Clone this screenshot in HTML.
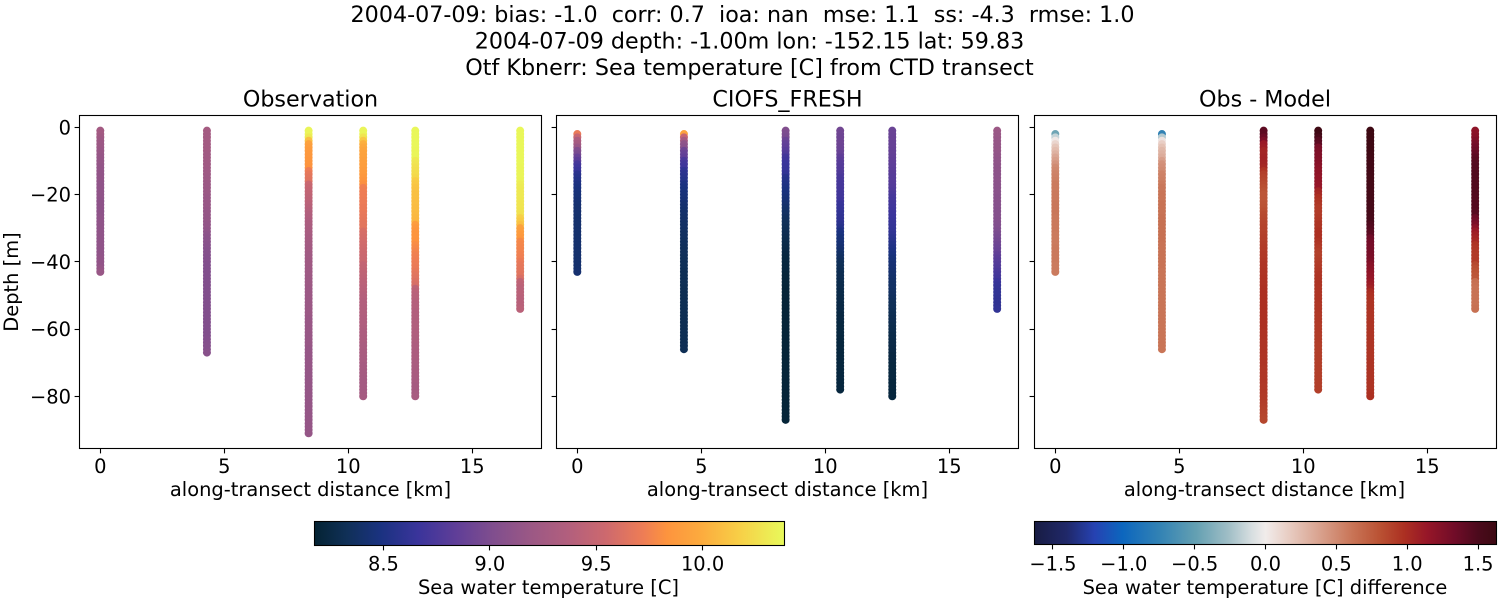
<!DOCTYPE html>
<html lang="en">
<head>
<meta charset="utf-8">
<title>CTD transect comparison</title>
<style>
html,body{margin:0;padding:0;background:#fff;width:1500px;height:600px;overflow:hidden}
svg{display:block}
text{font-family:"DejaVu Sans","Liberation Sans",sans-serif;fill:#000;white-space:pre}
.sup,.ttl{font-size:22.22px}
.lab,.tick{font-size:19.44px}
</style>
</head>
<body>
<svg id="fig" xmlns="http://www.w3.org/2000/svg" width="1500" height="600" viewBox="0 0 1500 600" xml:space="preserve">
<defs>
<linearGradient id="thermal-gradient" x1="0" x2="1" y1="0" y2="0"></linearGradient>
<linearGradient id="balance-gradient" x1="0" x2="1" y1="0" y2="0"></linearGradient>
</defs>
<rect width="1500" height="600" fill="#fff"/>
<text class="sup" x="742.5" y="22" text-anchor="middle">2004-07-09: bias: -1.0  corr: 0.7  ioa: nan  mse: 1.1  ss: -4.3  rmse: 1.0</text>
<text class="sup" x="749.5" y="48.5" text-anchor="middle">2004-07-09 depth: -1.00m lon: -152.15 lat: 59.83</text>
<text class="sup" x="749.5" y="75" text-anchor="middle">Otf Kbnerr: Sea temperature [C] from CTD transect</text>
<text class="ttl" x="310.5" y="106.5" text-anchor="middle">Observation</text>
<text class="ttl" x="787.5" y="106.5" text-anchor="middle">CIOFS_FRESH</text>
<text class="ttl" x="1265" y="106.5" text-anchor="middle">Obs - Model</text>
<text class="lab" x="310.5" y="496" text-anchor="middle">along-transect distance [km]</text>
<text class="lab" x="787.5" y="496" text-anchor="middle">along-transect distance [km]</text>
<text class="lab" x="1264.5" y="496" text-anchor="middle">along-transect distance [km]</text>
<text class="lab" transform="translate(18,282) rotate(-90)" text-anchor="middle">Depth [m]</text>
<text class="lab" x="548.5" y="594" text-anchor="middle">Sea water temperature [C]</text>
<text class="lab" x="1265" y="594" text-anchor="middle">Sea water temperature [C] difference</text>
<g id="layer"></g>
</svg>
<script>
// Axis tick values and printed labels
const xTicks = [0, 5, 10, 15];
const yTicks = [0, -20, -40, -60, -80];
const tempTicks = [8.5, 9.0, 9.5, 10.0];
const tempTickLabels = ['8.5', '9.0', '9.5', '10.0'];
const diffTicks = [-1.5, -1.0, -0.5, 0.0, 0.5, 1.0, 1.5];
const diffTickLabels = ['\u22121.5', '\u22121.0', '\u22120.5', '0.0', '0.5', '1.0', '1.5'];

// Along-transect distance of each cast [km]
const stationKm = [0, 4.3, 8.4, 10.6, 12.7, 16.93];

// Depth of the first sample of each cast [m below surface]; samples are 1 m apart
const obsFirstDepth = [1, 1, 1, 1, 1, 1];
const modelFirstDepth = [2, 2, 1, 1, 1, 1];

// Colour limits
const tempLimits = [8.176, 10.385];
const diffLimits = [-1.63, 1.63];

// Observed temperature per cast [C]
const obs0 = [9.25,9.25,9.23,9.21,9.20,9.19,9.18,9.17,9.16,9.15,
9.15,9.14,9.14,9.13,9.13,9.13,9.12,9.12,9.12,9.12,
9.12,9.11,9.11,9.11,9.11,9.11,9.12,9.12,9.12,9.12,
9.12,9.12,9.12,9.12,9.12,9.12,9.12,9.12,9.13,9.13,
9.13,9.15,9.17];
const obs1 = [9.27,9.26,9.26,9.26,9.25,9.25,9.25,9.24,9.24,9.24,
9.23,9.23,9.22,9.22,9.21,9.21,9.20,9.20,9.19,9.19,
9.18,9.18,9.17,9.17,9.16,9.16,9.15,9.15,9.14,9.14,
9.12,9.10,9.09,9.08,9.07,9.06,9.05,9.05,9.04,9.04,
9.03,9.03,9.03,9.03,9.03,9.03,9.03,9.03,9.03,9.03,
9.03,9.03,9.03,9.03,9.03,9.03,9.03,9.03,9.03,9.03,
9.03,9.03,9.04,9.04,9.05,9.05,9.07];
const obs2 = [10.36,10.36,10.30,10.10,9.93,9.90,9.88,9.87,9.86,9.85,
9.84,9.83,9.72,9.68,9.66,9.64,9.52,9.50,9.48,9.47,
9.45,9.44,9.42,9.40,9.38,9.36,9.35,9.33,9.32,9.31,
9.30,9.29,9.28,9.27,9.26,9.25,9.25,9.24,9.24,9.23,
9.23,9.22,9.22,9.22,9.21,9.21,9.21,9.20,9.20,9.20,
9.20,9.19,9.19,9.19,9.19,9.19,9.18,9.18,9.18,9.18,
9.18,9.17,9.17,9.17,9.17,9.16,9.16,9.16,9.16,9.16,
9.16,9.16,9.15,9.15,9.15,9.15,9.15,9.15,9.15,9.15,
9.15,9.15,9.15,9.15,9.15,9.15,9.15,9.15,9.15,9.15,
9.15];
const obs3 = [10.36,10.36,10.28,10.14,10.02,9.98,9.95,9.94,9.93,9.92,
9.91,9.90,9.89,9.88,9.86,9.84,9.82,9.74,9.73,9.72,
9.72,9.71,9.71,9.70,9.70,9.69,9.68,9.67,9.66,9.66,
9.60,9.59,9.58,9.57,9.56,9.55,9.54,9.53,9.52,9.52,
9.48,9.47,9.46,9.45,9.44,9.43,9.42,9.41,9.40,9.39,
9.38,9.37,9.37,9.36,9.36,9.36,9.35,9.35,9.35,9.34,
9.33,9.33,9.32,9.32,9.31,9.31,9.30,9.30,9.29,9.29,
9.28,9.28,9.27,9.27,9.26,9.26,9.26,9.26,9.26,9.27];
const obs4 = [10.37,10.37,10.37,10.37,10.37,10.37,10.36,10.36,10.36,10.30,
10.28,10.26,10.25,10.24,10.22,10.16,10.14,10.12,10.11,10.10,
10.10,10.09,10.09,10.08,10.08,10.07,10.06,10.05,9.90,9.87,
9.85,9.84,9.84,9.83,9.80,9.78,9.76,9.74,9.73,9.72,
9.71,9.70,9.68,9.66,9.64,9.62,9.60,9.45,9.43,9.41,
9.40,9.39,9.38,9.38,9.37,9.37,9.36,9.36,9.36,9.36,
9.35,9.35,9.34,9.34,9.33,9.33,9.32,9.32,9.32,9.31,
9.31,9.30,9.30,9.30,9.29,9.29,9.28,9.28,9.28,9.29];
const obs5 = [10.37,10.37,10.37,10.37,10.37,10.37,10.37,10.37,10.37,10.37,
10.37,10.36,10.36,10.36,10.36,10.35,10.32,10.31,10.30,10.30,
10.30,10.29,10.28,10.28,10.27,10.26,10.18,10.15,10.10,9.93,
9.90,9.88,9.86,9.78,9.77,9.76,9.75,9.74,9.73,9.70,
9.68,9.67,9.66,9.65,9.60,9.46,9.44,9.42,9.42,9.42,
9.41,9.41,9.41,9.42];
const obsSeries = [obs0, obs1, obs2, obs3, obs4, obs5];

// CIOFS_FRESH model temperature per cast [C]
const model0 = [9.70,9.50,9.32,9.28,9.18,9.02,8.98,8.88,8.82,8.72,
8.68,8.65,8.58,8.55,8.53,8.50,8.48,8.47,8.46,8.45,
8.44,8.43,8.42,8.42,8.42,8.41,8.41,8.41,8.41,8.41,
8.41,8.41,8.41,8.41,8.41,8.41,8.41,8.41,8.41,8.41,
8.41,8.42];
const model1 = [9.94,9.50,9.28,9.12,9.08,8.92,8.88,8.85,8.74,8.70,
8.68,8.60,8.58,8.56,8.54,8.50,8.48,8.47,8.46,8.45,
8.44,8.42,8.41,8.40,8.40,8.39,8.39,8.38,8.38,8.37,
8.36,8.36,8.35,8.35,8.34,8.34,8.34,8.33,8.33,8.33,
8.33,8.32,8.32,8.32,8.32,8.32,8.31,8.31,8.31,8.31,
8.31,8.31,8.31,8.31,8.31,8.31,8.31,8.31,8.31,8.31,
8.31,8.31,8.31,8.32,8.32];
const model2 = [9.02,9.00,8.98,8.90,8.86,8.84,8.80,8.76,8.70,8.68,
8.66,8.65,8.64,8.62,8.56,8.54,8.52,8.50,8.48,8.47,
8.45,8.44,8.42,8.40,8.38,8.37,8.35,8.34,8.33,8.32,
8.31,8.30,8.29,8.28,8.27,8.26,8.25,8.24,8.23,8.23,
8.22,8.22,8.22,8.21,8.21,8.21,8.21,8.20,8.20,8.20,
8.20,8.20,8.20,8.20,8.20,8.20,8.20,8.20,8.20,8.20,
8.20,8.20,8.20,8.20,8.20,8.20,8.20,8.20,8.20,8.20,
8.20,8.20,8.20,8.20,8.20,8.20,8.20,8.20,8.20,8.20,
8.20,8.20,8.20,8.20,8.20,8.20,8.20];
const model3 = [8.94,8.93,8.92,8.92,8.92,8.91,8.90,8.88,8.84,8.82,
8.80,8.79,8.78,8.76,8.74,8.73,8.72,8.72,8.71,8.70,
8.70,8.68,8.65,8.64,8.63,8.62,8.61,8.60,8.58,8.55,
8.50,8.48,8.46,8.45,8.44,8.42,8.40,8.38,8.36,8.34,
8.33,8.32,8.31,8.30,8.30,8.29,8.28,8.28,8.27,8.27,
8.26,8.26,8.25,8.25,8.25,8.24,8.24,8.24,8.23,8.23,
8.23,8.23,8.22,8.22,8.22,8.22,8.22,8.22,8.22,8.22,
8.22,8.22,8.22,8.22,8.22,8.22,8.22,8.22];
const model4 = [8.90,8.90,8.89,8.89,8.88,8.88,8.87,8.87,8.86,8.85,
8.84,8.83,8.82,8.81,8.80,8.80,8.79,8.78,8.76,8.74,
8.72,8.71,8.70,8.69,8.68,8.67,8.66,8.65,8.64,8.63,
8.62,8.60,8.58,8.56,8.54,8.52,8.50,8.48,8.46,8.45,
8.44,8.43,8.42,8.41,8.40,8.39,8.38,8.38,8.37,8.36,
8.35,8.34,8.33,8.33,8.32,8.31,8.30,8.30,8.29,8.28,
8.28,8.27,8.27,8.26,8.26,8.25,8.25,8.24,8.24,8.24,
8.23,8.23,8.23,8.23,8.23,8.22,8.22,8.22,8.22,8.22];
const model5 = [9.20,9.18,9.17,9.16,9.16,9.15,9.15,9.14,9.13,9.12,
9.12,9.11,9.11,9.10,9.10,9.10,9.09,9.09,9.08,9.08,
9.07,9.07,9.06,9.06,9.05,9.05,9.05,9.04,9.03,9.02,
9.00,8.98,8.96,8.94,8.92,8.90,8.88,8.85,8.82,8.80,
8.78,8.76,8.74,8.72,8.70,8.66,8.64,8.63,8.62,8.62,
8.61,8.61,8.61,8.62];
const modelSeries = [model0, model1, model2, model3, model4, model5];

// Obs - Model difference per cast [C]
const diff0 = [-0.45,-0.15,0.02,0.12,0.20,0.25,0.30,0.36,0.40,0.45,
0.50,0.52,0.54,0.55,0.56,0.58,0.58,0.58,0.59,0.59,
0.59,0.60,0.60,0.60,0.60,0.59,0.59,0.59,0.59,0.59,
0.58,0.58,0.58,0.58,0.59,0.59,0.59,0.59,0.59,0.58,
0.58,0.58];
const diff1 = [-0.75,-0.20,0.05,0.15,0.22,0.27,0.30,0.33,0.40,0.46,
0.48,0.50,0.54,0.55,0.56,0.58,0.60,0.60,0.61,0.61,
0.61,0.62,0.62,0.62,0.62,0.63,0.63,0.63,0.63,0.63,
0.63,0.63,0.63,0.62,0.62,0.62,0.62,0.62,0.62,0.62,
0.62,0.61,0.61,0.61,0.61,0.61,0.61,0.61,0.61,0.61,
0.61,0.61,0.61,0.61,0.61,0.61,0.61,0.61,0.61,0.61,
0.61,0.61,0.61,0.61,0.61];
const diff2 = [1.42,1.42,1.36,1.28,1.12,1.10,1.05,1.05,1.06,1.06,
1.05,1.03,0.95,0.90,0.88,0.86,0.84,0.82,0.80,0.78,
0.78,0.78,0.79,0.80,0.82,0.84,0.85,0.86,0.87,0.88,
0.88,0.89,0.90,0.90,0.91,0.92,0.92,0.93,0.93,0.94,
0.95,0.95,0.96,0.96,0.97,0.97,0.97,0.98,0.98,0.98,
0.98,0.98,0.98,0.98,0.98,0.98,0.98,0.98,0.98,0.98,
0.97,0.97,0.97,0.96,0.96,0.96,0.96,0.95,0.95,0.95,
0.95,0.94,0.94,0.94,0.94,0.94,0.93,0.93,0.93,0.92,
0.92,0.91,0.90,0.89,0.88,0.87,0.86];
const diff3 = [1.60,1.60,1.52,1.45,1.42,1.30,1.28,1.26,1.25,1.24,
1.22,1.20,1.18,1.18,1.16,1.16,1.15,1.14,1.05,1.02,
0.98,0.96,0.94,0.92,0.92,0.92,0.93,0.94,0.96,0.96,
0.98,0.98,0.98,0.96,0.94,0.92,0.90,0.89,0.90,0.91,
0.92,0.93,0.94,0.95,0.96,0.96,0.96,0.95,0.95,0.95,
0.95,0.95,0.94,0.94,0.94,0.93,0.93,0.93,0.92,0.92,
0.92,0.91,0.91,0.91,0.90,0.90,0.90,0.90,0.90,0.90,
0.90,0.90,0.90,0.90,0.90,0.90,0.90,0.90];
const diff4 = [1.62,1.62,1.62,1.61,1.61,1.60,1.60,1.60,1.59,1.58,
1.58,1.58,1.57,1.57,1.56,1.56,1.56,1.55,1.55,1.55,
1.55,1.55,1.54,1.54,1.54,1.54,1.53,1.53,1.48,1.46,
1.44,1.42,1.34,1.32,1.31,1.30,1.30,1.29,1.28,1.26,
1.22,1.20,1.18,1.16,1.15,1.12,1.10,1.06,1.00,0.98,
0.97,0.96,0.96,0.96,0.95,0.95,0.95,0.95,0.95,0.95,
0.95,0.95,0.95,0.95,0.95,0.95,0.95,0.95,0.95,0.96,
0.96,0.96,0.96,0.96,0.96,0.96,0.96,0.96,0.97,0.98];
const diff5 = [1.18,1.20,1.22,1.26,1.30,1.33,1.36,1.38,1.42,1.44,
1.45,1.46,1.46,1.47,1.47,1.47,1.47,1.47,1.47,1.47,
1.46,1.46,1.46,1.46,1.45,1.45,1.36,1.32,1.28,1.20,
1.12,1.08,1.05,1.02,0.96,0.94,0.93,0.92,0.92,0.92,
0.85,0.82,0.80,0.78,0.77,0.64,0.63,0.62,0.62,0.62,
0.62,0.62,0.62,0.63];
const diffSeries = [diff0, diff1, diff2, diff3, diff4, diff5];

// Colormap definitions: [position, r, g, b]
const thermalStops = [[0,4,35,51],[0.07,16,48,88],[0.14,26,50,128],[0.22,58,52,155],[0.30,95,62,152],[0.38,128,78,142],[0.46,155,88,133],[0.54,178,95,125],[0.62,205,105,110],[0.70,238,125,85],[0.75,253,148,62],[0.82,252,170,62],[0.90,248,205,70],[1,232,250,91]];
const balanceStops = [[0,24,28,67],[0.07,32,40,105],[0.13,38,66,178],[0.19,12,102,190],[0.27,50,130,180],[0.35,100,160,178],[0.42,160,190,198],[0.47,215,222,224],[0.5,241,236,235],[0.55,232,205,195],[0.62,216,160,140],[0.69,200,115,85],[0.75,185,80,50],[0.80,172,48,34],[0.85,150,22,40],[0.91,112,12,40],[0.96,75,10,28],[1,60,9,18]];

const NS = 'http://www.w3.org/2000/svg';
const layer = document.getElementById('layer');

function svgEl(tag, attrs, parent) {
  const el = document.createElementNS(NS, tag);
  for (const k in attrs) el.setAttribute(k, attrs[k]);
  (parent || layer).appendChild(el);
  return el;
}
function cmap(stops, t) {
  t = Math.max(0, Math.min(1, t));
  for (let i = 1; i < stops.length; i++) {
    if (t <= stops[i][0]) {
      const a = stops[i - 1], b = stops[i], f = (t - a[0]) / (b[0] - a[0]);
      return 'rgb(' + [1, 2, 3].map(function (j) { return Math.round(a[j] + (b[j] - a[j]) * f); }).join(',') + ')';
    }
  }
  return 'rgb(' + stops[stops.length - 1].slice(1).join(',') + ')';
}
function normalize(limits, v) { return (v - limits[0]) / (limits[1] - limits[0]); }

// Axis functions
const frameTop = 115.5, frameBottom = 448.5, frameWidth = 462;
function xScale(left, km) { return left + 20.8 + km * 24.8; }
function yScale(depth) { return 127.3 + (-depth) * 3.3625; }

function drawPanel(name, left, series, firstDepth, limits, stops, showLabels) {
  const g = svgEl('g', {});
  
  
  series.forEach(function (values, s) {
    const cast = svgEl('g', {}, g);
    
    
    values.forEach(function (v, i) {
      const depth = -(firstDepth[s] + i);
      const c = svgEl('circle', {
        cx: xScale(left, stationKm[s]).toFixed(2),
        cy: yScale(depth).toFixed(2),
        r: 4,
        fill: cmap(stops, normalize(limits, v))
      }, cast);
      
      
    });
  });
  const frame = svgEl('rect', { x: left, y: frameTop, width: frameWidth, height: frameBottom - frameTop, fill: 'none', stroke: '#000', 'stroke-width': 1.1 }, g);
  
  
  xTicks.forEach(function (t) {
    const x = Math.round(xScale(left, t) - 0.5) + 0.5;
    const tick = svgEl('line', { x1: x, x2: x, y1: frameBottom, y2: frameBottom + 4.9, stroke: '#000', 'stroke-width': 1.1 }, g);
    
    
    const label = svgEl('text', { class: 'tick', x: xScale(left, t), y: 473, 'text-anchor': 'middle' }, g);
    
    
    label.textContent = String(t);
  });
  yTicks.forEach(function (t) {
    const y = Math.round(yScale(t) - 0.5) + 0.5;
    const tick = svgEl('line', { x1: left - 4.9, x2: left, y1: y, y2: y, stroke: '#000', 'stroke-width': 1.1 }, g);
    
    
    if (showLabels) {
      const label = svgEl('text', { class: 'tick', x: left - 8.5, y: yScale(t) + 7, 'text-anchor': 'end' }, g);
      
      
      label.textContent = t === 0 ? '0' : '\u2212' + Math.abs(t);
    }
  });
}

function drawColorbar(name, gradientId, stops, left, right, top, bottom, limits, ticks, labels) {
  const grad = document.getElementById(gradientId);
  stops.forEach(function (s) {
    svgEl('stop', { offset: s[0], 'stop-color': 'rgb(' + s.slice(1).join(',') + ')' }, grad);
  });
  const g = svgEl('g', {});
  
  
  const bar = svgEl('rect', { x: left, y: top, width: right - left, height: bottom - top, fill: 'url(#' + gradientId + ')', stroke: '#000', 'stroke-width': 1.1 }, g);
  
  
  ticks.forEach(function (t, i) {
    const x = left + normalize(limits, t) * (right - left);
    const sx = Math.round(x - 0.5) + 0.5;
    const tick = svgEl('line', { x1: sx, x2: sx, y1: bottom, y2: bottom + 4.9, stroke: '#000', 'stroke-width': 1.1 }, g);
    
    
    const label = svgEl('text', { class: 'tick', x: x, y: 570.5, 'text-anchor': 'middle' }, g);
    
    
    label.textContent = labels[i];
  });
}

drawPanel('observation', 79.5, obsSeries, obsFirstDepth, tempLimits, thermalStops, true);
drawPanel('model', 556.5, modelSeries, modelFirstDepth, tempLimits, thermalStops, false);
drawPanel('difference', 1034.5, diffSeries, modelFirstDepth, diffLimits, balanceStops, false);
drawColorbar('temperature-colorbar', 'thermal-gradient', thermalStops, 314.5, 784.5, 521.5, 545.5, tempLimits, tempTicks, tempTickLabels);
drawColorbar('difference-colorbar', 'balance-gradient', balanceStops, 1034.5, 1496.5, 521.5, 544.5, diffLimits, diffTicks, diffTickLabels);
</script>
</body>
</html>
